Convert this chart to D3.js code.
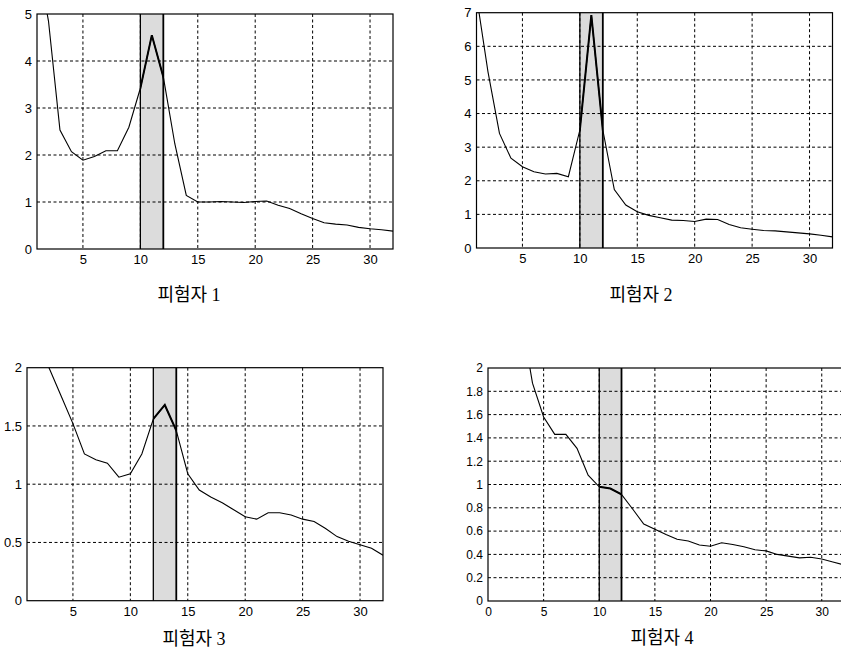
<!DOCTYPE html>
<html><head><meta charset="utf-8">
<script src="https://cdn.jsdelivr.net/npm/d3@7"></script>
<style>html,body{margin:0;padding:0;background:#fff;overflow:hidden}</style>
</head><body><svg id="c" width="841" height="654"></svg>
<script>
const bins = [1,2,3,4,5,6,7,8,9,10,11,12,13,14,15,16,17,18,19,20,21,22,23,24,25,26,27,28,29,30,31,32];
const s1 = [6.2,4.85,2.53,2.07,1.89,1.97,2.09,2.09,2.59,3.42,4.55,3.66,2.24,1.14,1.0,1.0,1.01,1.0,0.99,1.01,1.02,0.93,0.86,0.75,0.65,0.56,0.53,0.51,0.46,0.43,0.41,0.38];
const s2 = [7.5,5.24,3.41,2.67,2.42,2.27,2.2,2.22,2.12,3.51,6.93,3.51,1.74,1.28,1.08,0.97,0.9,0.83,0.82,0.79,0.86,0.85,0.7,0.6,0.56,0.52,0.51,0.48,0.45,0.42,0.38,0.33];
const s3 = [2.4,2.2,1.98,1.75,1.52,1.26,1.21,1.18,1.06,1.09,1.26,1.56,1.68,1.46,1.09,0.95,0.89,0.84,0.78,0.72,0.70,0.755,0.755,0.735,0.70,0.68,0.62,0.55,0.51,0.48,0.45,0.39];
const s4 = [3.5,2.9,2.43,1.87,1.58,1.43,1.43,1.31,1.08,0.98,0.965,0.915,0.79,0.66,0.615,0.57,0.53,0.515,0.48,0.47,0.50,0.485,0.465,0.44,0.43,0.40,0.385,0.37,0.375,0.36,0.335,0.31];
const xTicksA = [5,10,15,20,25,30];
const xTicksB = [0,5,10,15,20,25,30];
const yTicks1 = [0,1,2,3,4,5];
const yTicks2 = [0,1,2,3,4,5,6,7];
const yTicks3 = [0,0.5,1,1.5,2];
const yLabels3 = ["0","0.5","1","1.5","2"];
const yTicks4 = [0,0.2,0.4,0.6,0.8,1,1.2,1.4,1.6,1.8,2];
const yLabels4 = ["0","0.2","0.4","0.6","0.8","1","1.2","1.4","1.6","1.8","2"];
const bands = [[10,12],[10,12],[12,14],[10,12]];
const titles = ["피험자 1","피험자 2","피험자 3","피험자 4"];

const panels = [
  {s:s1, xd:[1,32], xr:[37,393], yd:[0,5], yr:[249,14], xt:xTicksA, yt:yTicks1, yl:yTicks1.map(String), band:bands[0], title:titles[0], tx:189, ty:297, fs:13},
  {s:s2, xd:[1,32], xr:[476.5,832.5], yd:[0,7], yr:[248,12.7], xt:xTicksA, yt:yTicks2, yl:yTicks2.map(String), band:bands[1], title:titles[1], tx:641, ty:297, fs:13},
  {s:s3, xd:[1,32], xr:[27,383], yd:[0,2], yr:[600.7,367.7], xt:xTicksA, yt:yTicks3, yl:yLabels3, band:bands[2], title:titles[2], tx:194, ty:641, fs:13},
  {s:s4, xd:[0,32], xr:[488,844], yd:[0,2], yr:[601,368], xt:xTicksB, yt:yTicks4, yl:yLabels4, band:bands[3], title:titles[3], tx:662, ty:640, fs:12}
];

const svg = d3.select("#c");
panels.forEach((p,i)=>{
  const x = d3.scaleLinear().domain(p.xd).range(p.xr);
  const y = d3.scaleLinear().domain(p.yd).range(p.yr);
  const g = svg.append("g");
  const L = p.xr[0], R = p.xr[1], T = p.yr[1], B = p.yr[0];
  const cid = "clip"+i;
  g.append("clipPath").attr("id",cid).append("rect").attr("x",L).attr("y",T).attr("width",R-L).attr("height",B-T);
  const bid = "bclip"+i;
  g.append("clipPath").attr("id",bid).append("rect").attr("x",x(p.band[0])).attr("y",T).attr("width",x(p.band[1])-x(p.band[0])).attr("height",B-T);
  // band
  g.append("rect").attr("x",x(p.band[0])).attr("y",T).attr("width",x(p.band[1])-x(p.band[0])).attr("height",B-T)
    .attr("fill","#dcdcdc");
  // grid
  const grid = g.append("g").attr("stroke","#000").attr("stroke-width",1).attr("stroke-dasharray","3,2.5");
  grid.selectAll("line.v").data(p.xt.filter(v=>v>p.xd[0])).enter().append("line")
    .attr("x1",d=>x(d)).attr("x2",d=>x(d)).attr("y1",T).attr("y2",B);
  grid.selectAll("line.h").data(p.yt.filter(v=>v>p.yd[0]&&v<p.yd[1])).enter().append("line")
    .attr("x1",L).attr("x2",R).attr("y1",d=>y(d)).attr("y2",d=>y(d));
  // band edges
  g.selectAll("line.be").data(p.band).enter().append("line")
    .attr("x1",d=>x(d)).attr("x2",d=>x(d)).attr("y1",T).attr("y2",B)
    .attr("stroke","#000").attr("stroke-width",(d,j)=>j?1.8:1.3);
  // curve
  const line = d3.line().x((d,j)=>x(bins[j])).y(d=>y(d));
  g.append("path").datum(p.s).attr("d",line).attr("fill","none").attr("stroke","#000")
    .attr("stroke-width",1.1).attr("clip-path","url(#"+cid+")");
  g.append("path").datum(p.s).attr("d",line).attr("fill","none").attr("stroke","#000")
    .attr("stroke-width",2).attr("clip-path","url(#"+bid+")");
  // frame
  g.append("rect").attr("x",L).attr("y",T).attr("width",R-L).attr("height",B-T)
    .attr("fill","none").attr("stroke","#000").attr("stroke-width",1.2);
  // axes labels
  const xa = d3.axisBottom(x).tickValues(p.xt).tickSize(0).tickPadding(6);
  const xg = g.append("g").attr("transform","translate(0,"+B+")").call(xa);
  xg.select(".domain").remove();
  xg.selectAll("text").attr("font-family","Liberation Sans, Arial, sans-serif").attr("font-size",p.fs).attr("fill","#000");
  const ya = d3.axisLeft(y).tickValues(p.yt).tickFormat((d,j)=>p.yl[j]).tickSize(0).tickPadding(5);
  const yg = g.append("g").attr("transform","translate("+L+",0)").call(ya);
  yg.select(".domain").remove();
  yg.selectAll("text").attr("font-family","Liberation Sans, Arial, sans-serif").attr("font-size",p.fs).attr("fill","#000");
  // title
  g.append("text").attr("x",p.tx).attr("y",p.ty).attr("text-anchor","middle").attr("dominant-baseline","middle")
    .attr("font-family","'Liberation Serif', 'Noto Sans CJK KR', serif").attr("font-size",18).attr("fill","#000")
    .text(p.title);
});
</script></body></html>
